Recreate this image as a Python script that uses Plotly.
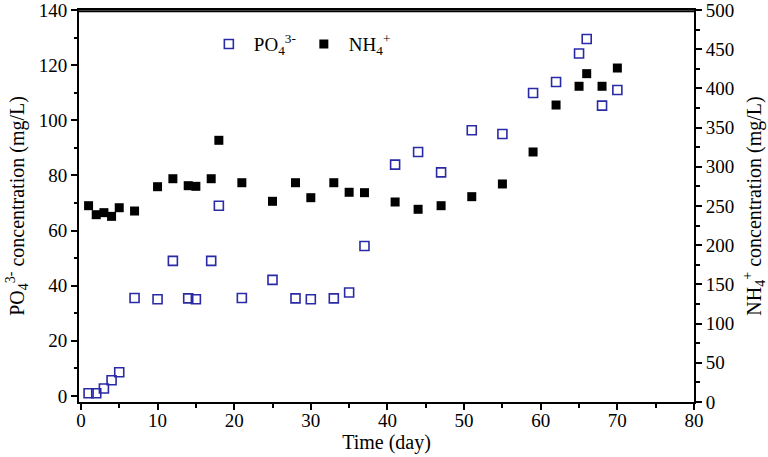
import plotly.graph_objects as go

# PO4^3- (left axis)
po4_day = [1, 2, 3, 4, 5, 7, 10, 12, 14, 15, 17, 18, 21, 25, 28, 30, 33, 35, 37,
           41, 44, 47, 51, 55, 59, 62, 65, 66, 68, 70]
po4_val = [1.0, 1.0, 2.7, 5.7, 8.6, 35.5, 35.1, 49.0, 35.4, 35.1, 49.0, 69.0, 35.5,
           42.1, 35.4, 35.1, 35.4, 37.5, 54.4, 83.9, 88.5, 81.1, 96.4, 95.0,
           109.9, 113.9, 124.2, 129.5, 105.3, 111.0]

# NH4+ (right axis)
nh4_day = [1, 2, 3, 4, 5, 7, 10, 12, 14, 15, 17, 18, 21, 25, 28, 30, 33, 35, 37,
           41, 44, 47, 51, 55, 59, 62, 65, 66, 68, 70]
nh4_val = [250.4, 238.9, 241.5, 236.8, 247.8, 243.6, 274.6, 284.8, 275.9, 275.1,
           284.8, 333.8, 279.7, 256.0, 279.7, 260.6, 279.7, 267.5, 267.0, 255.1,
           245.8, 250.4, 261.9, 278.1, 318.9, 378.8, 402.7, 418.8, 402.7, 426.0]

FONT = "Liberation Serif, Times New Roman, serif"
BLUE = "#2a2aa6"

fig = go.Figure()
fig.add_trace(go.Scatter(
    x=po4_day, y=po4_val, mode="markers", name="PO<sub>4</sub><sup>3-</sup>",
    marker=dict(symbol="square-open", size=9, color=BLUE, line=dict(width=1.6, color=BLUE)),
    yaxis="y"))
fig.add_trace(go.Scatter(
    x=nh4_day, y=nh4_val, mode="markers", name="NH<sub>4</sub><sup>+</sup>",
    marker=dict(symbol="square", size=9, color="black"),
    yaxis="y2"))

axis_common = dict(showgrid=False, zeroline=False, showline=True, linecolor="black",
                   linewidth=2, ticks="outside", ticklen=6, tickwidth=1.5, automargin=False,
                   ticklabeloverflow="allow",
                   tickcolor="black", tickfont=dict(family=FONT, size=19, color="black"))
minor_common = dict(ticklen=3.5, tickwidth=1.5, tickcolor="black", ticks="outside", showgrid=False)

fig.update_layout(
    width=768, height=457,
    margin=dict(l=79, r=74, t=10, b=55),
    paper_bgcolor="white", plot_bgcolor="white",
    font=dict(family=FONT, size=19, color="black"),
    showlegend=True,
    legend=dict(orientation="h", x=0.203, y=0.913, xanchor="left", yanchor="middle",
                itemwidth=40, entrywidth=40,
                bgcolor="rgba(0,0,0,0)", font=dict(family=FONT, size=19)),
    xaxis=dict(range=[-0.25, 80], tickvals=[0, 10, 20, 30, 40, 50, 60, 70, 80],
               minor=dict(dtick=5, **minor_common),
               mirror=True,
               title=dict(text="Time (day)", font=dict(family=FONT, size=20), standoff=0),
               **axis_common),
    yaxis=dict(range=[-2.2, 140], tickvals=[0, 20, 40, 60, 80, 100, 120, 140],
               minor=dict(dtick=10, **minor_common),
               title=dict(text="PO<sub>4</sub><sup>3-</sup> concentration (mg/L)",
                          font=dict(family=FONT, size=20), standoff=9),
               **axis_common),
    yaxis2=dict(range=[0, 500], tickvals=[0, 50, 100, 150, 200, 250, 300, 350, 400, 450, 500],
                overlaying="y", side="right", anchor="x",
                minor=dict(dtick=25, **minor_common),
                title=dict(text="NH<sub>4</sub><sup>+</sup> concentration (mg/L)",
                           font=dict(family=FONT, size=20), standoff=21),
                **axis_common),
    shapes=[dict(type="line", xref="paper", yref="paper", x0=0, x1=1, y0=0.997, y1=0.997,
                 layer="above", line=dict(color="black", width=2))],
)

try:
    fig.update_xaxes(ticklabelstandoff=-6)
except Exception:
    pass

fig.write_html("out.html", config={"displayModeBar": False},
               post_script="document.body.style.margin='0';document.body.style.overflow='hidden';")
